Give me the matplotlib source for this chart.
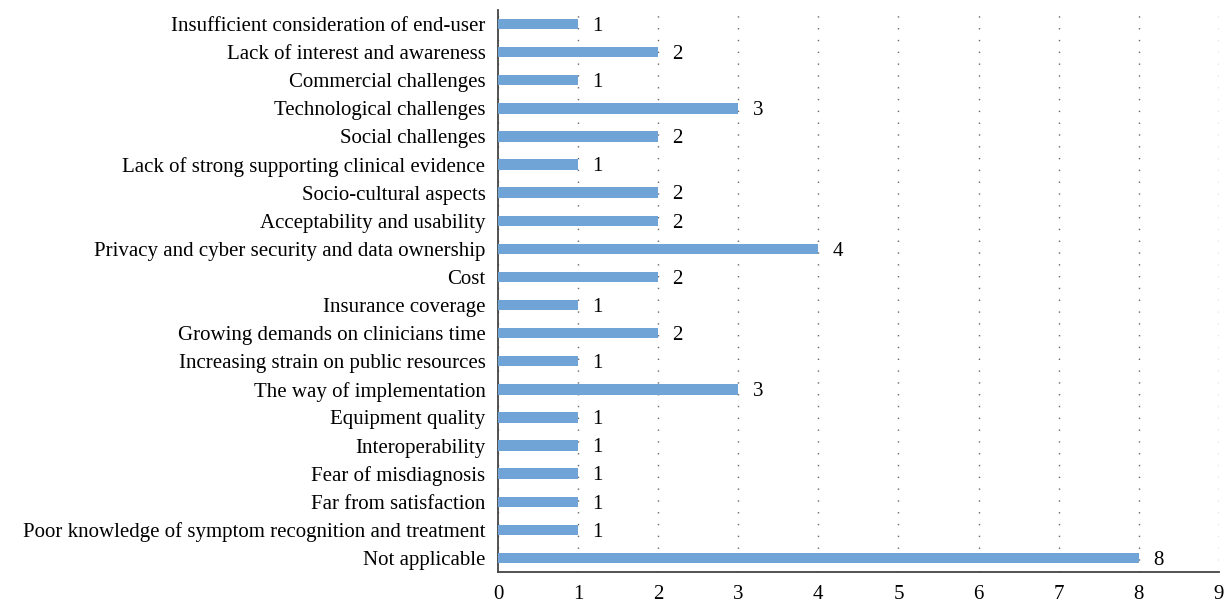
import matplotlib
matplotlib.use("Agg")
import matplotlib.pyplot as plt
import numpy as np

plt.rcParams['font.family'] = ['Liberation Serif', 'DejaVu Serif']

# barriers reported, listed top to bottom
categories = [
    "Insufficient consideration of end-user",
    "Lack of interest and awareness",
    "Commercial challenges",
    "Technological challenges",
    "Social challenges",
    "Lack of strong supporting clinical evidence",
    "Socio-cultural aspects",
    "Acceptability and usability",
    "Privacy and cyber security and data ownership",
    "Cost",
    "Insurance coverage",
    "Growing demands on clinicians time",
    "Increasing strain on public resources",
    "The way of implementation",
    "Equipment quality",
    "Interoperability",
    "Fear of misdiagnosis",
    "Far from satisfaction",
    "Poor knowledge of symptom recognition and treatment",
    "Not applicable",
]
counts = [1, 2, 1, 3, 2, 1, 2, 2, 4, 2, 1, 2, 1, 3, 1, 1, 1, 1, 1, 8]
xticks = list(range(0, 10))

fs = 15

fig = plt.figure(figsize=(12.25, 6.03), dpi=100)
ax = fig.add_axes([0.4065, 0.0514, 0.5885, 0.932])

y = np.arange(len(categories))[::-1]
ax.barh(y, counts, height=0.37, color="#71a4d6", zorder=3)

for yi, c in zip(y, counts):
    ax.text(c + 0.18, yi - 0.08, str(c), va="center", ha="left", fontsize=fs, color="black")

ax.set_yticks(y)
ax.set_yticklabels(categories, fontsize=fs)
ax.set_xticks(xticks)
ax.set_xticklabels([str(t) for t in xticks], fontsize=fs)
ax.set_xlim(0, 9)
ax.set_ylim(-0.5, len(categories) - 0.5)

ax.tick_params(axis="both", length=0, colors="black")
ax.tick_params(axis="x", pad=9)
ax.tick_params(axis="y", pad=9)

ax.xaxis.grid(True, linestyle=(0, (1, 7.5)), color="#666666", linewidth=1.0, zorder=0)
ax.yaxis.grid(False)

for side in ["top", "right"]:
    ax.spines[side].set_visible(False)
ax.spines["left"].set_color("#444444")
ax.spines["bottom"].set_color("#444444")
ax.spines["left"].set_linewidth(1.3)
ax.spines["bottom"].set_linewidth(1.3)

fig.savefig("out.png", dpi=100)
